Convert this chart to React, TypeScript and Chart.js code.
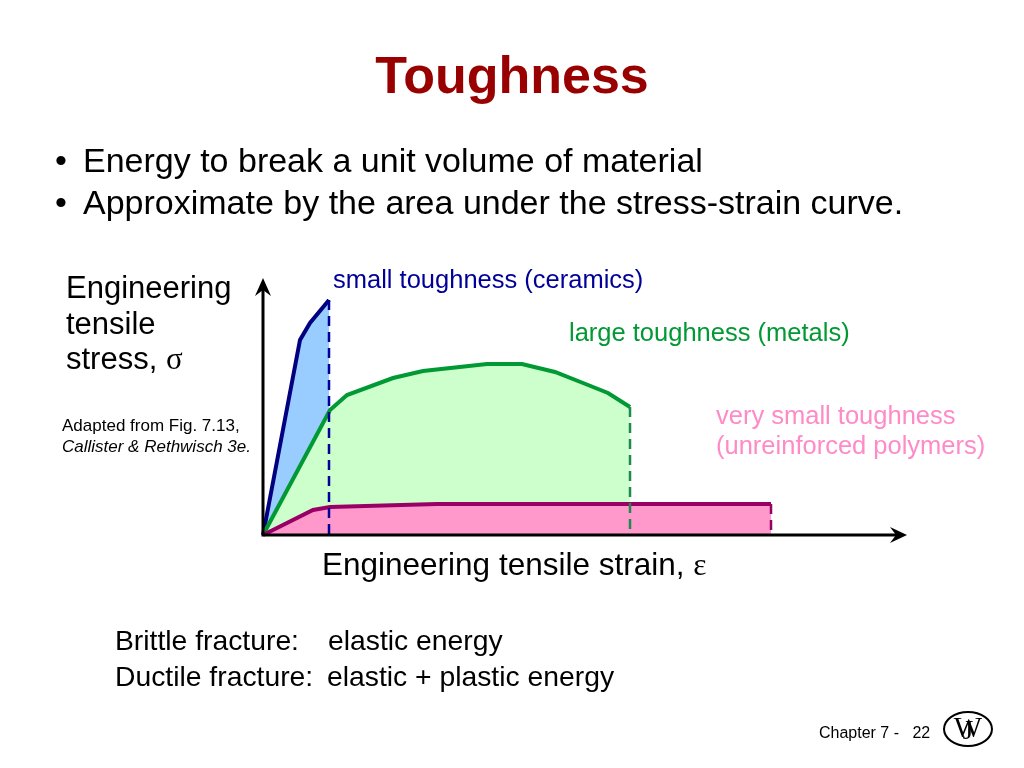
import React, { useEffect, useRef } from "react";
import { Chart, registerables } from "chart.js";

Chart.register(...registerables);

// Stress-strain curves (strain units, stress units)
const ceramicsStrain = [0, 37, 47, 66];
const ceramicsStress = [0, 195, 212, 235];
const metalsStrain = [0, 67, 84, 130, 160, 224, 259, 292, 320, 345, 367];
const metalsStress = [0, 125, 140, 157, 164, 171, 171, 163, 152, 142, 128];
const polymersStrain = [0, 50, 67, 174, 508];
const polymersStress = [0, 25, 28, 31, 31];
const strainMax = 644;
const stressMax = 257;

const pts = (xs: number[], ys: number[]) => xs.map((x, i) => ({ x, y: ys[i] }));
const lastDrop = (xs: number[], ys: number[]) => [
  { x: xs[xs.length - 1], y: ys[ys.length - 1] },
  { x: xs[xs.length - 1], y: 0 },
];

const FONT = '"Liberation Sans", Arial, Helvetica, sans-serif';

const axisPlugin = {
  id: "arrowAxes",
  afterDatasetsDraw(chart: any) {
    const { ctx, scales } = chart;
    const xs = scales.x;
    const ys = scales.y;
    const x0 = xs.getPixelForValue(0);
    const y0 = ys.getPixelForValue(0);
    const x1 = xs.getPixelForValue(strainMax);
    const y1 = ys.getPixelForValue(stressMax);
    ctx.save();
    ctx.strokeStyle = "#000";
    ctx.fillStyle = "#000";
    ctx.lineWidth = 3;
    ctx.lineCap = "butt";
    ctx.beginPath();
    ctx.moveTo(x0 - 1.5, y0);
    ctx.lineTo(x1 - 8, y0);
    ctx.moveTo(x0, y0 + 1.5);
    ctx.lineTo(x0, y1 + 8);
    ctx.stroke();
    // x arrow head
    ctx.beginPath();
    ctx.moveTo(x1, y0);
    ctx.lineTo(x1 - 17, y0 - 8);
    ctx.lineTo(x1 - 11, y0);
    ctx.lineTo(x1 - 17, y0 + 8);
    ctx.closePath();
    ctx.fill();
    // y arrow head
    ctx.beginPath();
    ctx.moveTo(x0, y1);
    ctx.lineTo(x0 - 8, y1 + 18);
    ctx.lineTo(x0, y1 + 12);
    ctx.lineTo(x0 + 8, y1 + 18);
    ctx.closePath();
    ctx.fill();
    ctx.restore();
  },
};

function T(props: {
  x: number;
  base: number;
  size: number;
  color?: string;
  bold?: boolean;
  italic?: boolean;
  children: React.ReactNode;
}) {
  const { x, base, size, color = "#000", bold, italic, children } = props;
  return (
    <div
      style={{
        position: "absolute",
        left: x,
        top: base - 0.8465 * size,
        fontFamily: FONT,
        fontSize: size,
        lineHeight: `${size}px`,
        color,
        fontWeight: bold ? "bold" : "normal",
        fontStyle: italic ? "italic" : "normal",
        whiteSpace: "nowrap",
      }}
    >
      {children}
    </div>
  );
}

const SERIF = '"Liberation Serif", "DejaVu Serif", serif';
const sym = { fontFamily: SERIF };

export default function App() {
  const ref = useRef<HTMLCanvasElement>(null);

  useEffect(() => {
    if (!ref.current) return;
    const dash = (data: any[], color: string) => ({
      data,
      showLine: true,
      borderColor: color,
      borderWidth: 2.5,
      borderDash: [10, 6],
      pointRadius: 0,
      fill: false,
      clip: false as any,
      order: 0,
    });
    const chart = new Chart(ref.current, {
      type: "scatter",
      data: {
        datasets: [
          dash(lastDrop(ceramicsStrain, ceramicsStress), "#000099"),
          dash(lastDrop(metalsStrain, metalsStress), "#1f8a4c"),
          dash(lastDrop(polymersStrain, polymersStress), "#990066"),
          {
            data: pts(polymersStrain, polymersStress),
            showLine: true,
            borderColor: "#990066",
            backgroundColor: "#ff99cc",
            borderWidth: 4,
            pointRadius: 0,
            fill: "origin",
            clip: false as any,
            order: 1,
          },
          {
            data: pts(metalsStrain, metalsStress),
            showLine: true,
            borderColor: "#009933",
            backgroundColor: "#ccffcc",
            borderWidth: 4,
            pointRadius: 0,
            fill: "origin",
            clip: false as any,
            order: 2,
          },
          {
            data: pts(ceramicsStrain, ceramicsStress),
            showLine: true,
            borderColor: "#000080",
            backgroundColor: "#99ccff",
            borderWidth: 4,
            pointRadius: 0,
            fill: "origin",
            clip: false as any,
            order: 3,
          },
        ],
      },
      options: {
        responsive: false,
        animation: false,
        events: [],
        layout: { padding: { left: 263, right: 1024 - 907, top: 278, bottom: 768 - 535 } },
        plugins: { legend: { display: false }, tooltip: { enabled: false }, title: { display: false } },
        scales: {
          x: { type: "linear", min: 0, max: strainMax, display: false },
          y: { type: "linear", min: 0, max: stressMax, display: false },
        },
      },
      plugins: [axisPlugin],
    });
    return () => chart.destroy();
  }, []);

  return (
    <div style={{ position: "fixed", left: 0, top: 0, width: 1024, height: 768, background: "#fff", overflow: "hidden" }}>
      <canvas ref={ref} width={1024} height={768} style={{ position: "absolute", left: 0, top: 0 }} />
      <div
        style={{
          position: "absolute",
          left: 0,
          width: 1024,
          top: 93 - 0.8465 * 52,
          textAlign: "center",
          fontFamily: FONT,
          fontSize: 52,
          lineHeight: "52px",
          fontWeight: "bold",
          color: "#990000",
        }}
      >
        Toughness
      </div>
      <T x={55} base={172} size={34}>•</T>
      <T x={83} base={172} size={34}>Energy to break a unit volume of material</T>
      <T x={55} base={214} size={34}>•</T>
      <T x={83} base={214} size={34}>Approximate by the area under the stress-strain curve.</T>

      <T x={66} base={298} size={31}>Engineering</T>
      <T x={66} base={334} size={31}>tensile</T>
      <T x={66} base={369} size={31}>
        stress, <span style={sym}>σ</span>
      </T>

      <T x={62} base={431} size={17}>Adapted from Fig. 7.13,</T>
      <T x={62} base={452} size={17} italic>Callister &amp; Rethwisch 3e.</T>

      <T x={333} base={289} size={25.5} color="#000099">small toughness (ceramics)</T>
      <T x={569} base={342} size={25.5} color="#009933">large toughness (metals)</T>
      <T x={716} base={425} size={25.5} color="#ff8ac8">very small toughness</T>
      <T x={716} base={455} size={25.5} color="#ff8ac8">(unreinforced polymers)</T>

      <T x={322} base={576} size={31.5}>
        Engineering tensile strain, <span style={sym}>ε</span>
      </T>

      <T x={115} base={650} size={28.3}>Brittle fracture:</T>
      <T x={328} base={650} size={28.3}>elastic energy</T>
      <T x={115} base={686} size={28.3}>Ductile fracture:</T>
      <T x={327} base={686} size={28.3}>elastic + plastic energy</T>

      <T x={819} base={739} size={16}>Chapter 7 -&nbsp;&nbsp; 22</T>

      <div
        style={{
          position: "absolute",
          left: 943,
          top: 711,
          width: 46,
          height: 32,
          border: "2px solid #000",
          borderRadius: "50%",
          overflow: "hidden",
        }}
      >
        <div style={{ position: "absolute", left: 0, width: 46, textAlign: "center", top: -1, fontFamily: SERIF, fontSize: 30, lineHeight: "30px" }}>W</div>
        <div style={{ position: "absolute", left: 0, width: 46, textAlign: "center", top: 3, fontFamily: SERIF, fontSize: 28, lineHeight: "28px" }}>J</div>
      </div>
    </div>
  );
}
